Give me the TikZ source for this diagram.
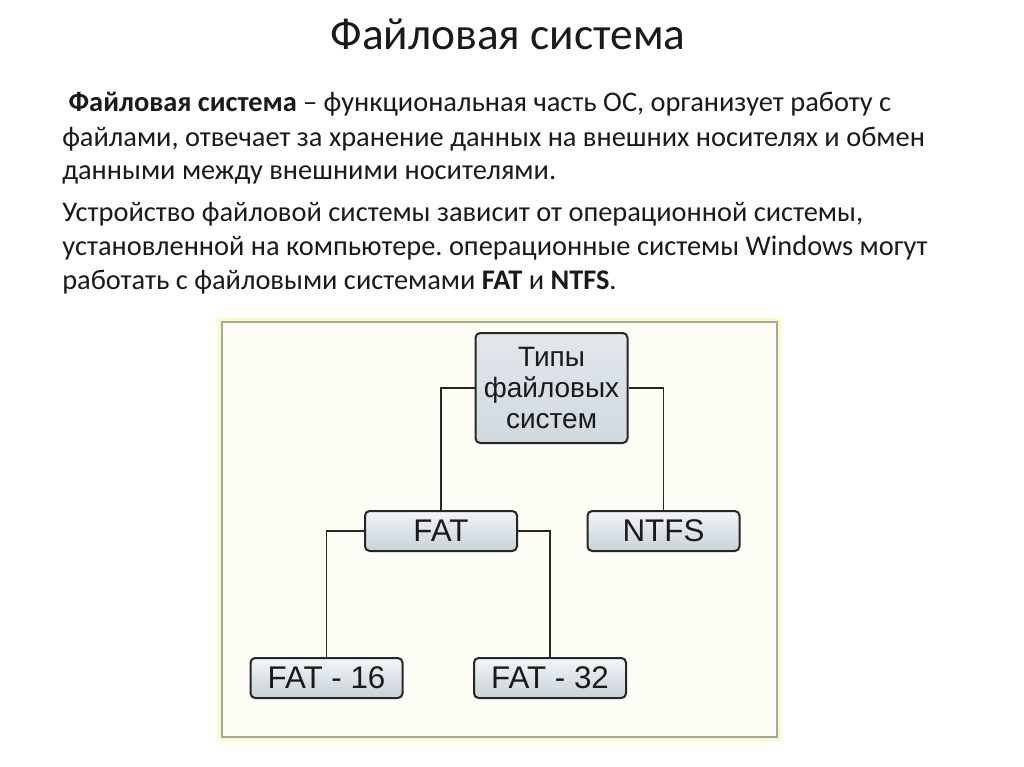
\documentclass[tikz,border=0pt]{standalone}
\usepackage{fontspec}
\setmainfont{Carlito}
\newfontfamily\boxfont{Liberation Sans}
\usepackage{tikz}
\usetikzlibrary{positioning,calc}
\frenchspacing

\definecolor{slidetext}{HTML}{1A1A1A}
\definecolor{paper}{HTML}{FDFDF6}
\definecolor{boxtop}{HTML}{F3F5F7}
\definecolor{boxbot}{HTML}{C8D2D9}

\begin{document}
\begin{tikzpicture}[
        x=0.75pt, y=-0.75pt,
        every node/.style={text=slidetext},
        title/.style={font=\fontsize{34}{40}\selectfont, anchor=base},
        bodyline/.style={font=\fontsize{21.3}{25.5}\selectfont, anchor=base west, inner sep=0pt},
        fsbox/.style={
            draw=black!85,
            line width=1.5pt,
            rectangle,
            rounded corners=3.5pt,
            align=center,
            top color=boxtop,
            bottom color=boxbot,
            minimum width=114pt,
            minimum height=30pt,
            inner sep=0pt,
            font=\boxfont\fontsize{23.5}{26}\selectfont
        },
        link/.style={draw=black!85, line width=1pt}
    ]
        \useasboundingbox (0,0) rectangle (1024,767);
        \fill[white] (0,0) rectangle (1024,767);

        % Title and text
        \node[title] (heading) at (508,50) {Файловая система};
        \node[bodyline] (l1) at (62,112) {\ \textbf{Файловая система} – функциональная часть ОС, организует работу с};
        \node[bodyline] (l2) at (62,146) {файлами, отвечает за хранение данных на внешних носителях и обмен};
        \node[bodyline] (l3) at (62,179) {данными между внешними носителями.};
        \node[bodyline] (l4) at (62,221) {Устройство файловой системы зависит от операционной системы,};
        \node[bodyline] (l5) at (62,255) {установленной на компьютере. операционные системы Windows могут};
        \node[bodyline] (l6) at (62,289) {работать с файловыми системами \textbf{FAT} и \textbf{NTFS}.};

        % Diagram frame
        \draw[yellow!25, line width=3pt] (220,320) rectangle (779,739);
        \draw[black!35, fill=paper, line width=0.8pt] (222,322) rectangle (777,737);

        % Boxes
        \node[fsbox, minimum height=82.5pt, top color=boxtop!60!boxbot, bottom color=boxbot!80!boxtop,
              font=\boxfont\fontsize{21}{23.3}\selectfont] (types) at (551.5,388) {Типы\\файловых\\систем};
        \node[fsbox] (fat) at (441,531) {FAT};
        \node[fsbox] (ntfs) at (663.5,531) {NTFS};
        \node[fsbox] (fat16) at (326.5,678) {FAT - 16};
        \node[fsbox] (fat32) at (550,678) {FAT - 32};

        % Tree links
        \draw[link] (types.west) -| (fat.north);
        \draw[link] (types.east) -| (ntfs.north);
        \draw[link] (fat.west) -| (fat16.north);
        \draw[link] (fat.east) -| (fat32.north);

    \end{tikzpicture}
\end{document}
